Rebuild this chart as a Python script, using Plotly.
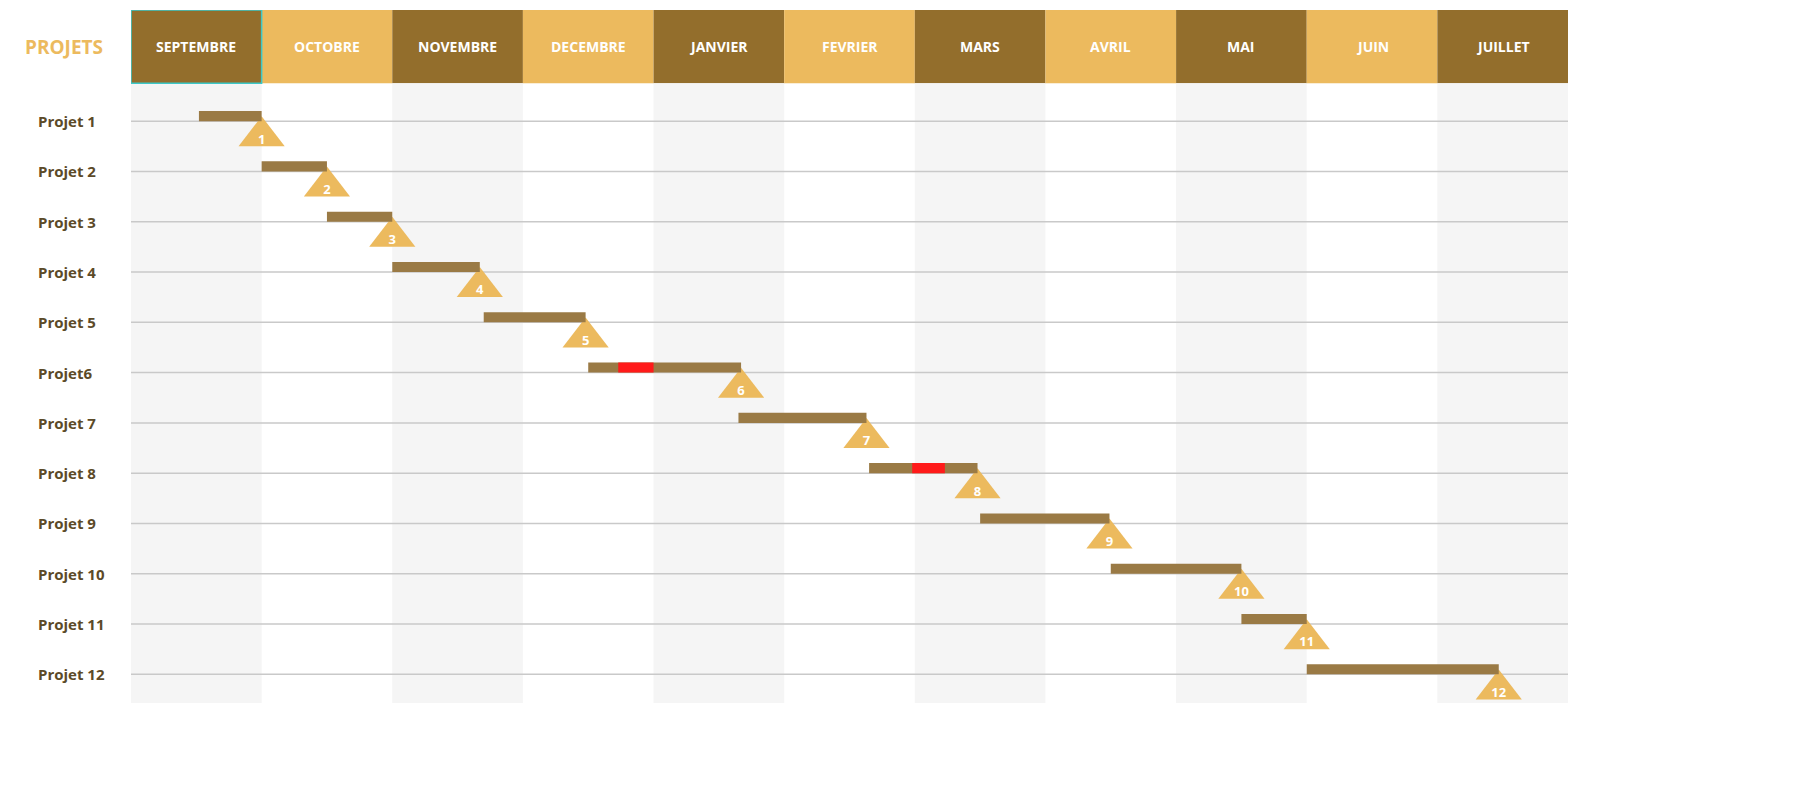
import plotly.graph_objects as go

months = ["SEPTEMBRE","OCTOBRE","NOVEMBRE","DECEMBRE","JANVIER","FEVRIER","MARS","AVRIL","MAI","JUIN","JUILLET"]
projects = ["Projet 1","Projet 2","Projet 3","Projet 4","Projet 5","Projet6","Projet 7","Projet 8","Projet 9","Projet 10","Projet 11","Projet 12"]
starts = [0.52,1.0,1.5,2.0,2.7,3.5,4.65,5.65,6.5,7.5,8.5,9.0]
ends   = [1.0,1.5,2.0,2.67,3.48,4.67,5.63,6.48,7.49,8.5,9.0,10.47]
delay_proj = [6,8]
delay_start = [3.73,5.98]
delay_end = [4.0,6.23]
milestones = [str(i) for i in range(1,13)]

DARK="#936e2c"; LIGHT="#ecba5e"; BAR="#9a7a45"
fig = go.Figure()
shapes=[]; ann=[]
YT, YH, YB = -1.21, 0.245, 12.57
for i,m in enumerate(months):
    dark = i%2==0
    shapes.append(dict(type="rect",xref="x",yref="y",x0=i,x1=i+1,y0=YT,y1=YH,fillcolor=DARK if dark else LIGHT,line=dict(width=0),layer="below"))
    if dark:
        shapes.append(dict(type="rect",xref="x",yref="y",x0=i,x1=i+1,y0=YH,y1=YB,fillcolor="#f5f5f5",line=dict(width=0),layer="below"))
    ann.append(dict(x=i+0.5,y=(YT+YH)/2,xref="x",yref="y",text="<b>%s</b>"%m,showarrow=False,font=dict(color="white",size=14,family="Open Sans")))
shapes.append(dict(type="rect",xref="x",yref="y",x0=0,x1=1,y0=YT,y1=YH,line=dict(color="#3cc8c8",width=1.5),fillcolor="rgba(0,0,0,0)"))
for j,p in enumerate(projects):
    y=j+1
    shapes.append(dict(type="line",xref="x",yref="y",x0=0,x1=11,y0=y,y1=y,line=dict(color="#c9c9c9",width=1.5),layer="below"))
    shapes.append(dict(type="rect",xref="x",yref="y",x0=starts[j],x1=ends[j],y0=y-0.2,y1=y,fillcolor=BAR,line=dict(width=0)))
    ann.append(dict(x=-(123-28)/1437,y=y,xref="paper",yref="y",xanchor="left",text="<b>%s</b>"%p,showarrow=False,font=dict(color="#5c4a28",size=15,family="Open Sans")))
for k,p in enumerate(delay_proj):
    shapes.append(dict(type="rect",xref="x",yref="y",x0=delay_start[k],x1=delay_end[k],y0=p-0.2,y1=p,fillcolor="#ff1a1a",line=dict(width=0)))
ann.append(dict(x=-(123-15)/1437,y=YT/2+YH/2,xref="paper",yref="y",xanchor="left",text="<b>PROJETS</b>",showarrow=False,font=dict(color=LIGHT,size=19,family="Open Sans")))

ys=[j+1 for j in range(12)]
fig.add_trace(go.Scatter(x=ends,y=[v+0.3 for v in ys],mode="markers",marker=dict(symbol="triangle-up",size=40,color=LIGHT,line=dict(width=0)),hoverinfo="skip"))
fig.add_trace(go.Scatter(x=ends,y=[v+0.38 for v in ys],mode="text",text=["<b>%s</b>"%m for m in milestones],textfont=dict(color="white",size=13,family="Open Sans"),hoverinfo="skip"))

fig.update_layout(width=1816,height=811,margin=dict(l=123,r=256,t=2,b=116),plot_bgcolor="white",paper_bgcolor="white",
    showlegend=False,shapes=shapes,annotations=ann,
    xaxis=dict(range=[0,11],visible=False,fixedrange=True),
    yaxis=dict(range=[YB,YT],visible=False,fixedrange=True))
fig.write_html("out.html")
